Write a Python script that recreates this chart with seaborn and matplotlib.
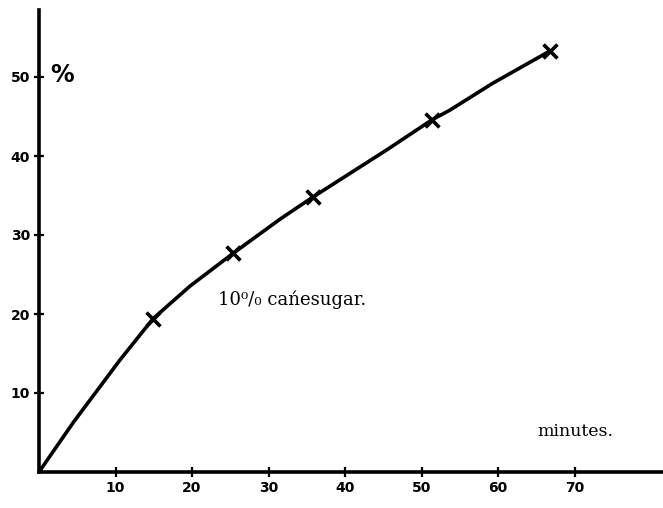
import matplotlib
matplotlib.use("Agg")
import matplotlib.pyplot as plt
import seaborn as sns
import pandas as pd

# measured points (x marks)
minutes = [14.9, 25.4, 35.8, 51.4, 66.8]
percent = [19.4, 27.7, 34.8, 44.6, 53.3]

# points
curve_minutes = [0, 4.5, 10.6, 14.9, 19.7, 25.4, 31.5, 35.8, 45.5, 51.4, 53.7, 59.3, 66.8]
curve_percent = [0, 6.3, 14.2, 19.4, 23.5, 27.7, 32.0, 34.8, 40.8, 44.6, 45.8, 49.2, 53.3]

x_ticks = [10, 20, 30, 40, 50, 60, 70]
y_ticks = [10, 20, 30, 40, 50]

sns.set_style("white")
plt.rcParams["font.family"] = ["DejaVu Sans"]
plt.rcParams["text.color"] = "black"
plt.rcParams["xtick.color"] = "black"
plt.rcParams["ytick.color"] = "black"

W, H = 663, 508
fig = plt.figure(figsize=(W / 100, H / 100), dpi=100)
left, right = 39 / W, 1.0
bottom, top = (H - 472) / H, (H - 10) / H
ax = fig.add_axes([left, bottom, right - left, top - bottom])

curve = pd.DataFrame({"minutes": curve_minutes, "percent": curve_percent})
pts = pd.DataFrame({"minutes": minutes, "percent": percent})

sns.lineplot(data=curve, x="minutes", y="percent", sort=False, color="black",
             linewidth=2.6, ax=ax)
sns.scatterplot(data=pts, x="minutes", y="percent", marker="x", s=100,
                color="black", linewidth=2.6, ax=ax, zorder=5)

ax.set_xlim(0, (663 - 39) / 7.65)
ax.set_ylim(0, (472 - 10) / 7.9)

for side in ["top", "right"]:
    ax.spines[side].set_visible(False)
for side in ["left", "bottom"]:
    ax.spines[side].set_linewidth(2.6)
    ax.spines[side].set_color("black")

ax.set_xticks(x_ticks)
ax.set_yticks(y_ticks)
ax.set_xticklabels([str(v) for v in x_ticks], fontsize=10, fontweight="bold")
ax.set_yticklabels([str(v) for v in y_ticks], fontsize=10, fontweight="bold")
ax.tick_params(axis="both", which="major", bottom=True, left=True,
               direction="inout", length=7, width=1.6, colors="black", pad=3)
ax.set_xlabel("")
ax.set_ylabel("")

ax.text(1.5, 50.3, "%", fontsize=17, fontweight="bold", ha="left", va="center",
        color="black")
ax.text(23.4, 21.8, "10\u2070/\u2080 ca\u0144esugar.", fontsize=13,
        ha="left", va="center", family=["DejaVu Serif"], color="black")
ax.text(65.2, 5.1, "minutes.", fontsize=12.5, ha="left", va="center",
        family=["DejaVu Serif"], color="black")

fig.savefig("out.png", dpi=100)
